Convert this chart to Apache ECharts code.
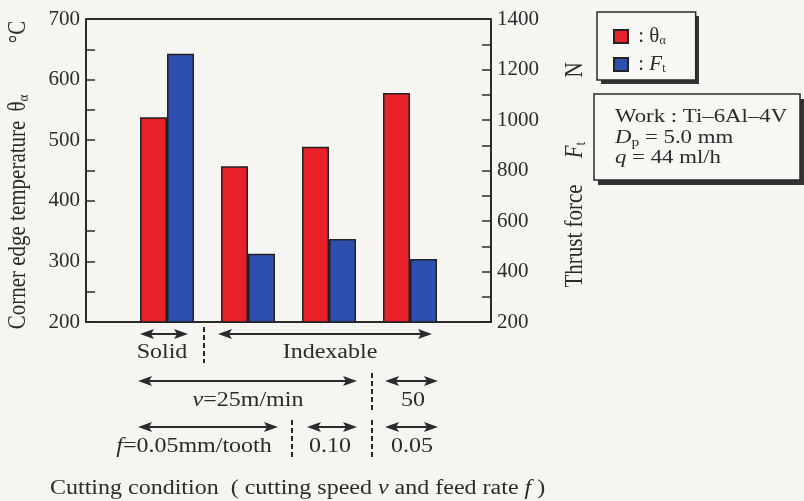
<!DOCTYPE html>
<html>
<head>
<meta charset="utf-8">
<script src="https://cdn.jsdelivr.net/npm/echarts@6/dist/echarts.min.js"></script>
<style>
html, body { margin: 0; background: #f6f5f1; }
#chart { width: 804px; height: 501px; }
</style>
</head>
<body>
<div id="chart"></div>
<script>
// categories padded with an empty slot on each side, like the original layout
var categories = ['', 'Solid v=25 f=0.05', 'Indexable v=25 f=0.05', 'Indexable v=25 f=0.10', 'Indexable v=50 f=0.05', ''];
var tempValues = ['-', 538, 457, 489, 578, '-'];     // θα, °C
var forceValues = ['-', 1262, 470, 529, 450, '-'];   // Ft, N
var tempTicks = [200, 300, 400, 500, 600, 700];
var forceTicks = [200, 400, 600, 800, 1000, 1200, 1400];

var ink = '#2b2b2b';
var serif = '"Liberation Serif", "DejaVu Serif", serif';
var stretch = 1.2;   // the scanned figure is wider than tall

var myChart = echarts.init(document.getElementById('chart'));

// double headed arrow under the axis
function arrow(x1, x2, y) {
    return [
        { type: 'line', shape: { x1: x1 + 6, y1: y, x2: x2 - 6, y2: y }, style: { stroke: ink, lineWidth: 2 } },
        { type: 'polygon', shape: { points: [[x1, y], [x1 + 14, y - 5], [x1 + 11, y], [x1 + 14, y + 5]] }, style: { fill: ink } },
        { type: 'polygon', shape: { points: [[x2, y], [x2 - 14, y - 5], [x2 - 11, y], [x2 - 14, y + 5]] }, style: { fill: ink } }
    ];
}
function dash(x, y1, y2) {
    return { type: 'line', shape: { x1: x, y1: y1, x2: x, y2: y2 }, style: { stroke: ink, lineWidth: 2, lineDash: [5, 3] } };
}
var rich = function (size) {
    return {
        i: { fontFamily: serif, fontSize: size, fontStyle: 'italic', fill: ink },
        s: { fontFamily: serif, fontSize: 13, fill: ink, padding: [10, 0, 0, 0] }
    };
};
function label(x, y, text, size, rot) {
    size = size || 20;
    return {
        type: 'text', x: x, y: y, rotation: rot || 0,
        scaleX: rot ? 1 : stretch, scaleY: rot ? stretch : 1,
        style: {
            text: text, fill: ink, font: size + 'px ' + serif,
            align: 'center', verticalAlign: 'middle', rich: rich(size)
        }
    };
}

var graphics = []
    .concat(arrow(140, 188, 334))
    .concat(arrow(218, 432, 334))
    .concat(arrow(138, 357, 381))
    .concat(arrow(385, 438, 381))
    .concat(arrow(138, 278, 427))
    .concat(arrow(307, 357, 427))
    .concat(arrow(385, 438, 427));
graphics.push(dash(204, 327, 363));
graphics.push(dash(372, 373, 410));
graphics.push(dash(292, 420, 457));
graphics.push(dash(372, 420, 457));
graphics.push(label(162, 353, 'Solid'));
graphics.push(label(330, 353, 'Indexable'));
graphics.push(label(248, 401, '{i|v}=25m/min'));
graphics.push(label(413, 401, '50'));
graphics.push(label(194, 447, '{i|f}=0.05mm/tooth'));
graphics.push(label(330, 447, '0.10'));
graphics.push(label(412, 447, '0.05'));
graphics.push({
    type: 'text', x: 50, y: 489, scaleX: stretch,
    style: { text: 'Cutting condition  ( cutting speed {i|v} and feed rate {i|f} )', fill: ink,
        font: '20px ' + serif, verticalAlign: 'middle', rich: rich(20) }
});
// axis names
var up = Math.PI / 2;
graphics.push(label(18, 225, 'Corner edge temperature', 21, up));
graphics.push(label(18, 103, 'θ{s|α}', 21, up));
graphics.push(label(18, 32, '°C', 21, up));
graphics.push(label(575, 236, 'Thrust force', 21, up));
graphics.push(label(575, 150, '{i|F}{s|t}', 21, up));
graphics.push(label(575, 70, 'N', 21, up));
// solid drop shadow behind the legend box
graphics.push({ type: 'rect', z: -1, shape: { x: 601, y: 16, width: 98, height: 68 }, style: { fill: '#333' } });
// work conditions box
graphics.push({ type: 'rect', shape: { x: 598, y: 99, width: 206, height: 86 }, style: { fill: '#333' } });
graphics.push({
    type: 'rect', shape: { x: 594, y: 94, width: 206, height: 86 },
    style: { fill: '#f8f7f3', stroke: ink, lineWidth: 1.5 }
});
graphics.push({ type: 'text', x: 615, y: 117, scaleX: stretch, style: { text: 'Work : Ti–6Al–4V', fill: ink, font: '19px ' + serif, verticalAlign: 'middle' } });
graphics.push({ type: 'text', x: 615, y: 138, scaleX: stretch, style: { text: '{i|D}{s|p} = 5.0 mm', fill: ink, font: '19px ' + serif, verticalAlign: 'middle', rich: rich(19) } });
graphics.push({ type: 'text', x: 615, y: 158, scaleX: stretch, style: { text: '{i|q} = 44 ml/h', fill: ink, font: '19px ' + serif, verticalAlign: 'middle', rich: rich(19) } });

var option = {
    backgroundColor: '#f6f5f1',
    animation: false,
    textStyle: { fontFamily: serif },
    grid: { left: 86, right: 313, top: 19, bottom: 179 },
    legend: {
        left: 597, top: 12, orient: 'vertical', icon: 'rect',
        padding: [14, 30, 5, 16], itemGap: 7,
        itemWidth: 14, itemHeight: 13,
        backgroundColor: '#f8f7f3', borderColor: ink, borderWidth: 1.5,
        data: ['theta', 'force'],
        formatter: function (name) {
            return name === 'theta' ? '{a| : θ}{s|α}' : '{a| : }{i|F}{s|t}';
        },
        textStyle: {
            rich: {
                a: { fontFamily: serif, fontSize: 21, color: ink },
                i: { fontFamily: serif, fontSize: 21, fontStyle: 'italic', color: ink },
                s: { fontFamily: serif, fontSize: 12, color: ink, padding: [9, 0, 0, 0] }
            }
        }
    },
    xAxis: {
        type: 'category', data: categories, boundaryGap: false,
        axisLine: { lineStyle: { color: ink, width: 2 } },
        axisTick: { show: false }, axisLabel: { show: false }
    },
    yAxis: [
        {
            type: 'value', position: 'left',
            min: tempTicks[0], max: tempTicks[tempTicks.length - 1], interval: tempTicks[1] - tempTicks[0],
            axisLine: { show: true, lineStyle: { color: ink, width: 2 } },
            axisTick: { show: true, inside: true, length: 9, lineStyle: { color: ink, width: 1.5 } },
            minorTick: { show: true, splitNumber: 2, length: 9, lineStyle: { color: ink, width: 1.5 } },
            axisLabel: { color: ink, fontSize: 21, fontFamily: serif, margin: 6 },
            splitLine: { show: false }
        },
        {
            type: 'value', position: 'right',
            min: forceTicks[0], max: forceTicks[forceTicks.length - 1], interval: forceTicks[1] - forceTicks[0],
            axisLine: { show: true, lineStyle: { color: ink, width: 2 } },
            axisTick: { show: true, inside: true, length: 9, lineStyle: { color: ink, width: 1.5 } },
            minorTick: { show: true, splitNumber: 2, length: 9, lineStyle: { color: ink, width: 1.5 } },
            axisLabel: { color: ink, fontSize: 21, fontFamily: serif, margin: 6, formatter: function (v) { return String(v); } },
            splitLine: { show: false }
        }
    ],
    series: [
        {
            name: 'theta', type: 'bar', yAxisIndex: 0, data: tempValues,
            barWidth: 27, barGap: '0%',
            itemStyle: { color: '#e8202a', borderColor: '#222', borderWidth: 1.5 }
        },
        {
            name: 'force', type: 'bar', yAxisIndex: 1, data: forceValues,
            barWidth: 27, barGap: '0%',
            itemStyle: { color: '#2f4fae', borderColor: '#222', borderWidth: 1.5 }
        },
        {
            // top frame line of the plot box
            type: 'line', data: [], markLine: {
                silent: true, symbol: 'none', label: { show: false },
                lineStyle: { color: ink, width: 2, type: 'solid' },
                data: [{ yAxis: tempTicks[tempTicks.length - 1] }]
            }
        }
    ],
    graphic: graphics
};
myChart.setOption(option);
</script>
</body>
</html>
